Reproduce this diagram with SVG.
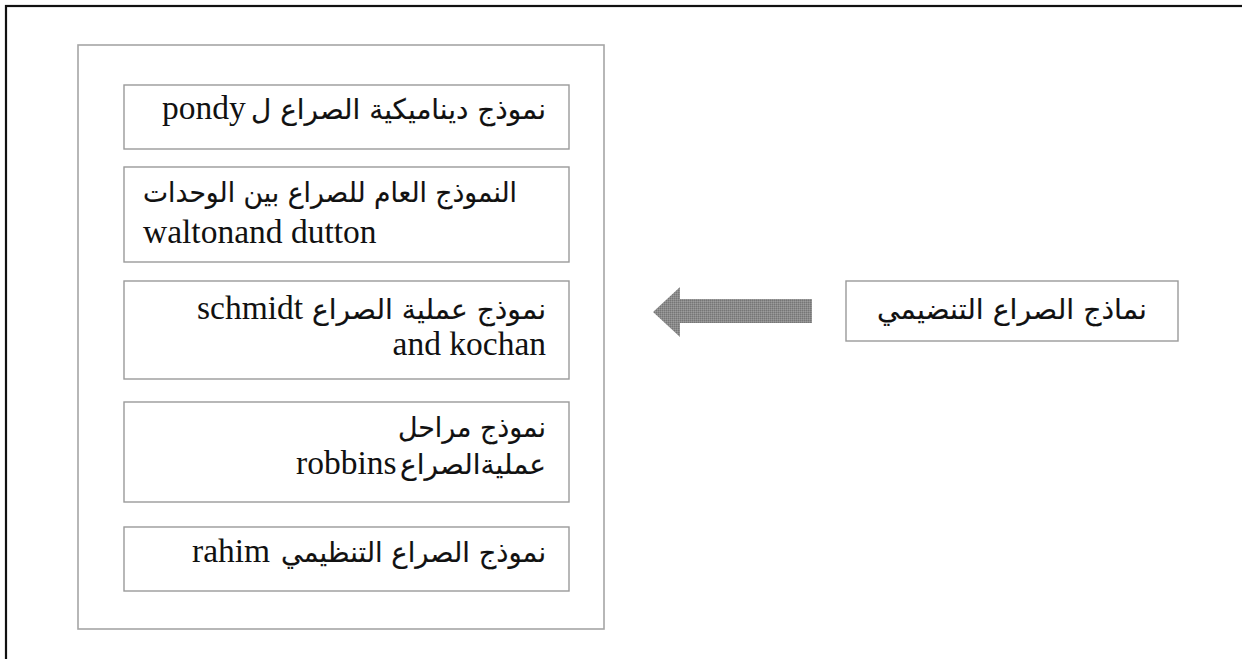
<svg xmlns="http://www.w3.org/2000/svg" width="1242" height="659" viewBox="0 0 1242 659">
  <style>
    .frame { fill: none; stroke: #111; stroke-width: 2.2; }
    .panel { fill: #fff; stroke: #a6a6a6; stroke-width: 1.6; }
    .box { fill: #fff; stroke: #9a9a9a; stroke-width: 1.4; }
    .lat { font-family: "Liberation Serif", "Times New Roman", serif; font-size: 33.5px; fill: #111; }
    .ar { font-family: "DejaVu Sans", "Noto Sans", sans-serif; font-size: 28px; fill: #111; stroke: #111; stroke-width: 0.15; }
  </style>
  <defs>
    <pattern id="dither" width="2" height="2" patternUnits="userSpaceOnUse">
      <rect width="2" height="2" fill="#8a8a8a"/>
      <rect width="1" height="1" fill="#767676"/>
      <rect x="1" y="1" width="1" height="1" fill="#9c9c9c"/>
    </pattern>
  </defs>

  <rect width="1242" height="659" fill="#fff"/>
  <!-- page border -->
  <rect class="frame" x="6" y="6" width="1260" height="680"/>

  <!-- container of the models -->
  <g id="models-panel">
    <rect class="panel" x="78" y="45" width="526" height="584"/>
  </g>

  <g id="model-pondy">
    <rect class="box" x="124" y="85" width="445" height="64"/>
    <text class="lat" x="162" y="119">pondy</text>
    <text class="ar" x="251" y="119" textLength="295" lengthAdjust="spacingAndGlyphs">نموذج ديناميكية الصراع ل</text>
  </g>

  <g id="model-walton">
    <rect class="box" x="124" y="167" width="445" height="95"/>
    <text class="ar" x="143" y="202" textLength="374" lengthAdjust="spacingAndGlyphs">النموذج العام للصراع بين الوحدات</text>
    <text class="lat" x="143" y="243">waltonand dutton</text>
  </g>

  <g id="model-schmidt">
    <rect class="box" x="124" y="281" width="445" height="98"/>
    <text class="lat" x="197" y="319">schmidt</text>
    <text class="ar" x="312" y="319" textLength="234" lengthAdjust="spacingAndGlyphs">نموذج عملية الصراع</text>
    <text class="lat" x="546" y="355" text-anchor="end">and kochan</text>
  </g>

  <g id="model-robbins">
    <rect class="box" x="124" y="402" width="445" height="100"/>
    <text class="ar" x="398" y="437" textLength="148" lengthAdjust="spacingAndGlyphs">نموذج مراحل</text>
    <text class="lat" x="296" y="474">robbins</text>
    <text class="ar" x="400" y="474" textLength="146" lengthAdjust="spacingAndGlyphs">عمليةالصراع</text>
  </g>

  <g id="model-rahim">
    <rect class="box" x="124" y="527" width="445" height="64"/>
    <text class="lat" x="192" y="562">rahim</text>
    <text class="ar" x="281" y="562" textLength="265" lengthAdjust="spacingAndGlyphs">نموذج الصراع التنظيمي</text>
  </g>

  <g id="conflict-models">
    <rect class="box" x="846" y="281" width="332" height="60"/>
    <text class="ar" x="877" y="319" textLength="270" lengthAdjust="spacingAndGlyphs">نماذج الصراع التنضيمي</text>
  </g>

  <!-- block arrow pointing to the list of models -->
  <g id="connectors">
    <path d="M653,312 L680,287 L680,299 L812,299 L812,323 L680,323 L680,337 Z" fill="url(#dither)"/>
  </g>
</svg>
